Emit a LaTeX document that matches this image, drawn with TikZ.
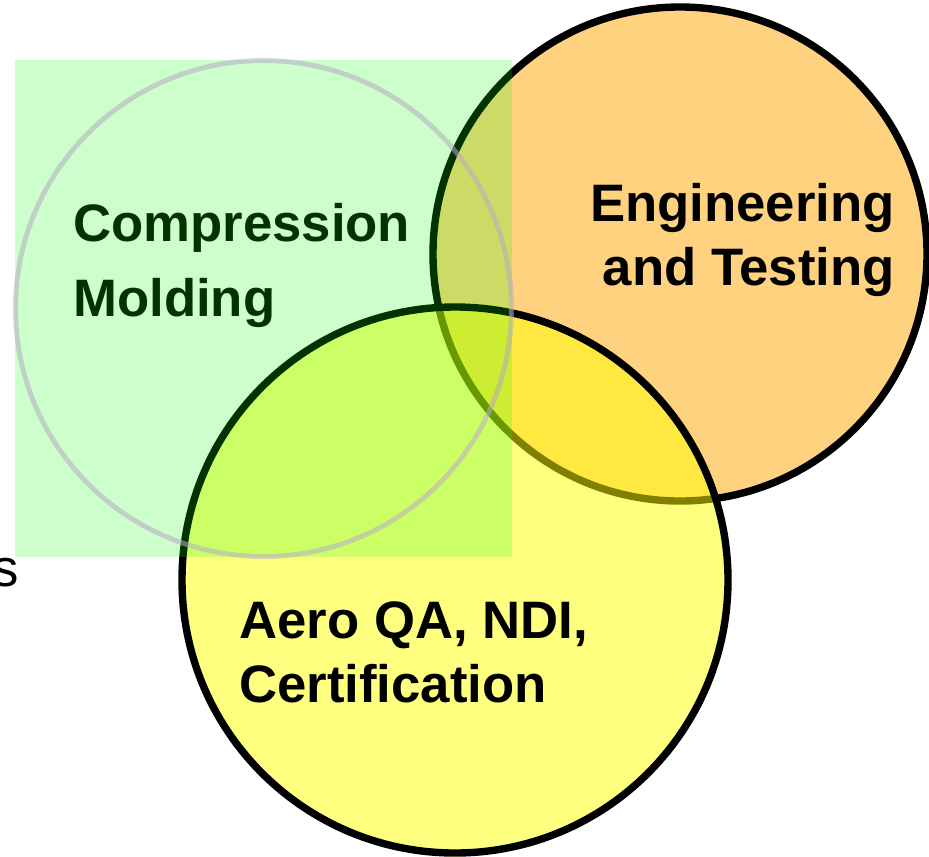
\documentclass[tikz,border=0pt]{standalone}
\usepackage{fontspec}
\setmainfont{Liberation Sans}
\usepackage{tikz}
\usetikzlibrary{positioning}
\definecolor{moldgreen}{RGB}{0,255,0}
\definecolor{engorange}{RGB}{255,165,0}
\definecolor{aeroyellow}{RGB}{255,255,0}
\definecolor{ringgrey}{RGB}{185,170,195}
\tikzset{
x=0.02cm, y=-0.02cm, % one unit is one pixel of the sketch
ring/.style={draw=black, line width=4.2pt}, % the black outlines of the circles
area/.style={font=\fontsize{30}{36}\selectfont\bfseries, inner sep=0pt}, % the bold labels
}

\begin{document}
\begin{tikzpicture}
      \useasboundingbox (0,0) rectangle (929,856);

      \node[area, align=left, anchor=base west, text=black, font=\fontsize{30}{42.5}\selectfont\bfseries] (molding) at (73,316) {Compression\\Molding};

      \draw[ring, fill=engorange, fill opacity=0.5] (680,254) circle (247);
      \draw[ring, fill=aeroyellow, fill opacity=0.5] (455,580) circle (273);
      \fill[moldgreen, opacity=0.2] (15,60) rectangle (512,557);
      \draw[ringgrey, line width=2.8pt, draw opacity=0.55] (263.5,308.5) circle (248);

      \node[area, align=right, anchor=base east] (testing) at (895,285) {Engineering\\and Testing};
      \node[area, align=left, anchor=base west] (aero) at (239,702) {Aero QA, NDI,\\Certification};
      \node[font=\fontsize{30}{36}\selectfont, inner sep=0pt, anchor=base east] (cut) at (19,586) {s};
    \end{tikzpicture}
\end{document}
